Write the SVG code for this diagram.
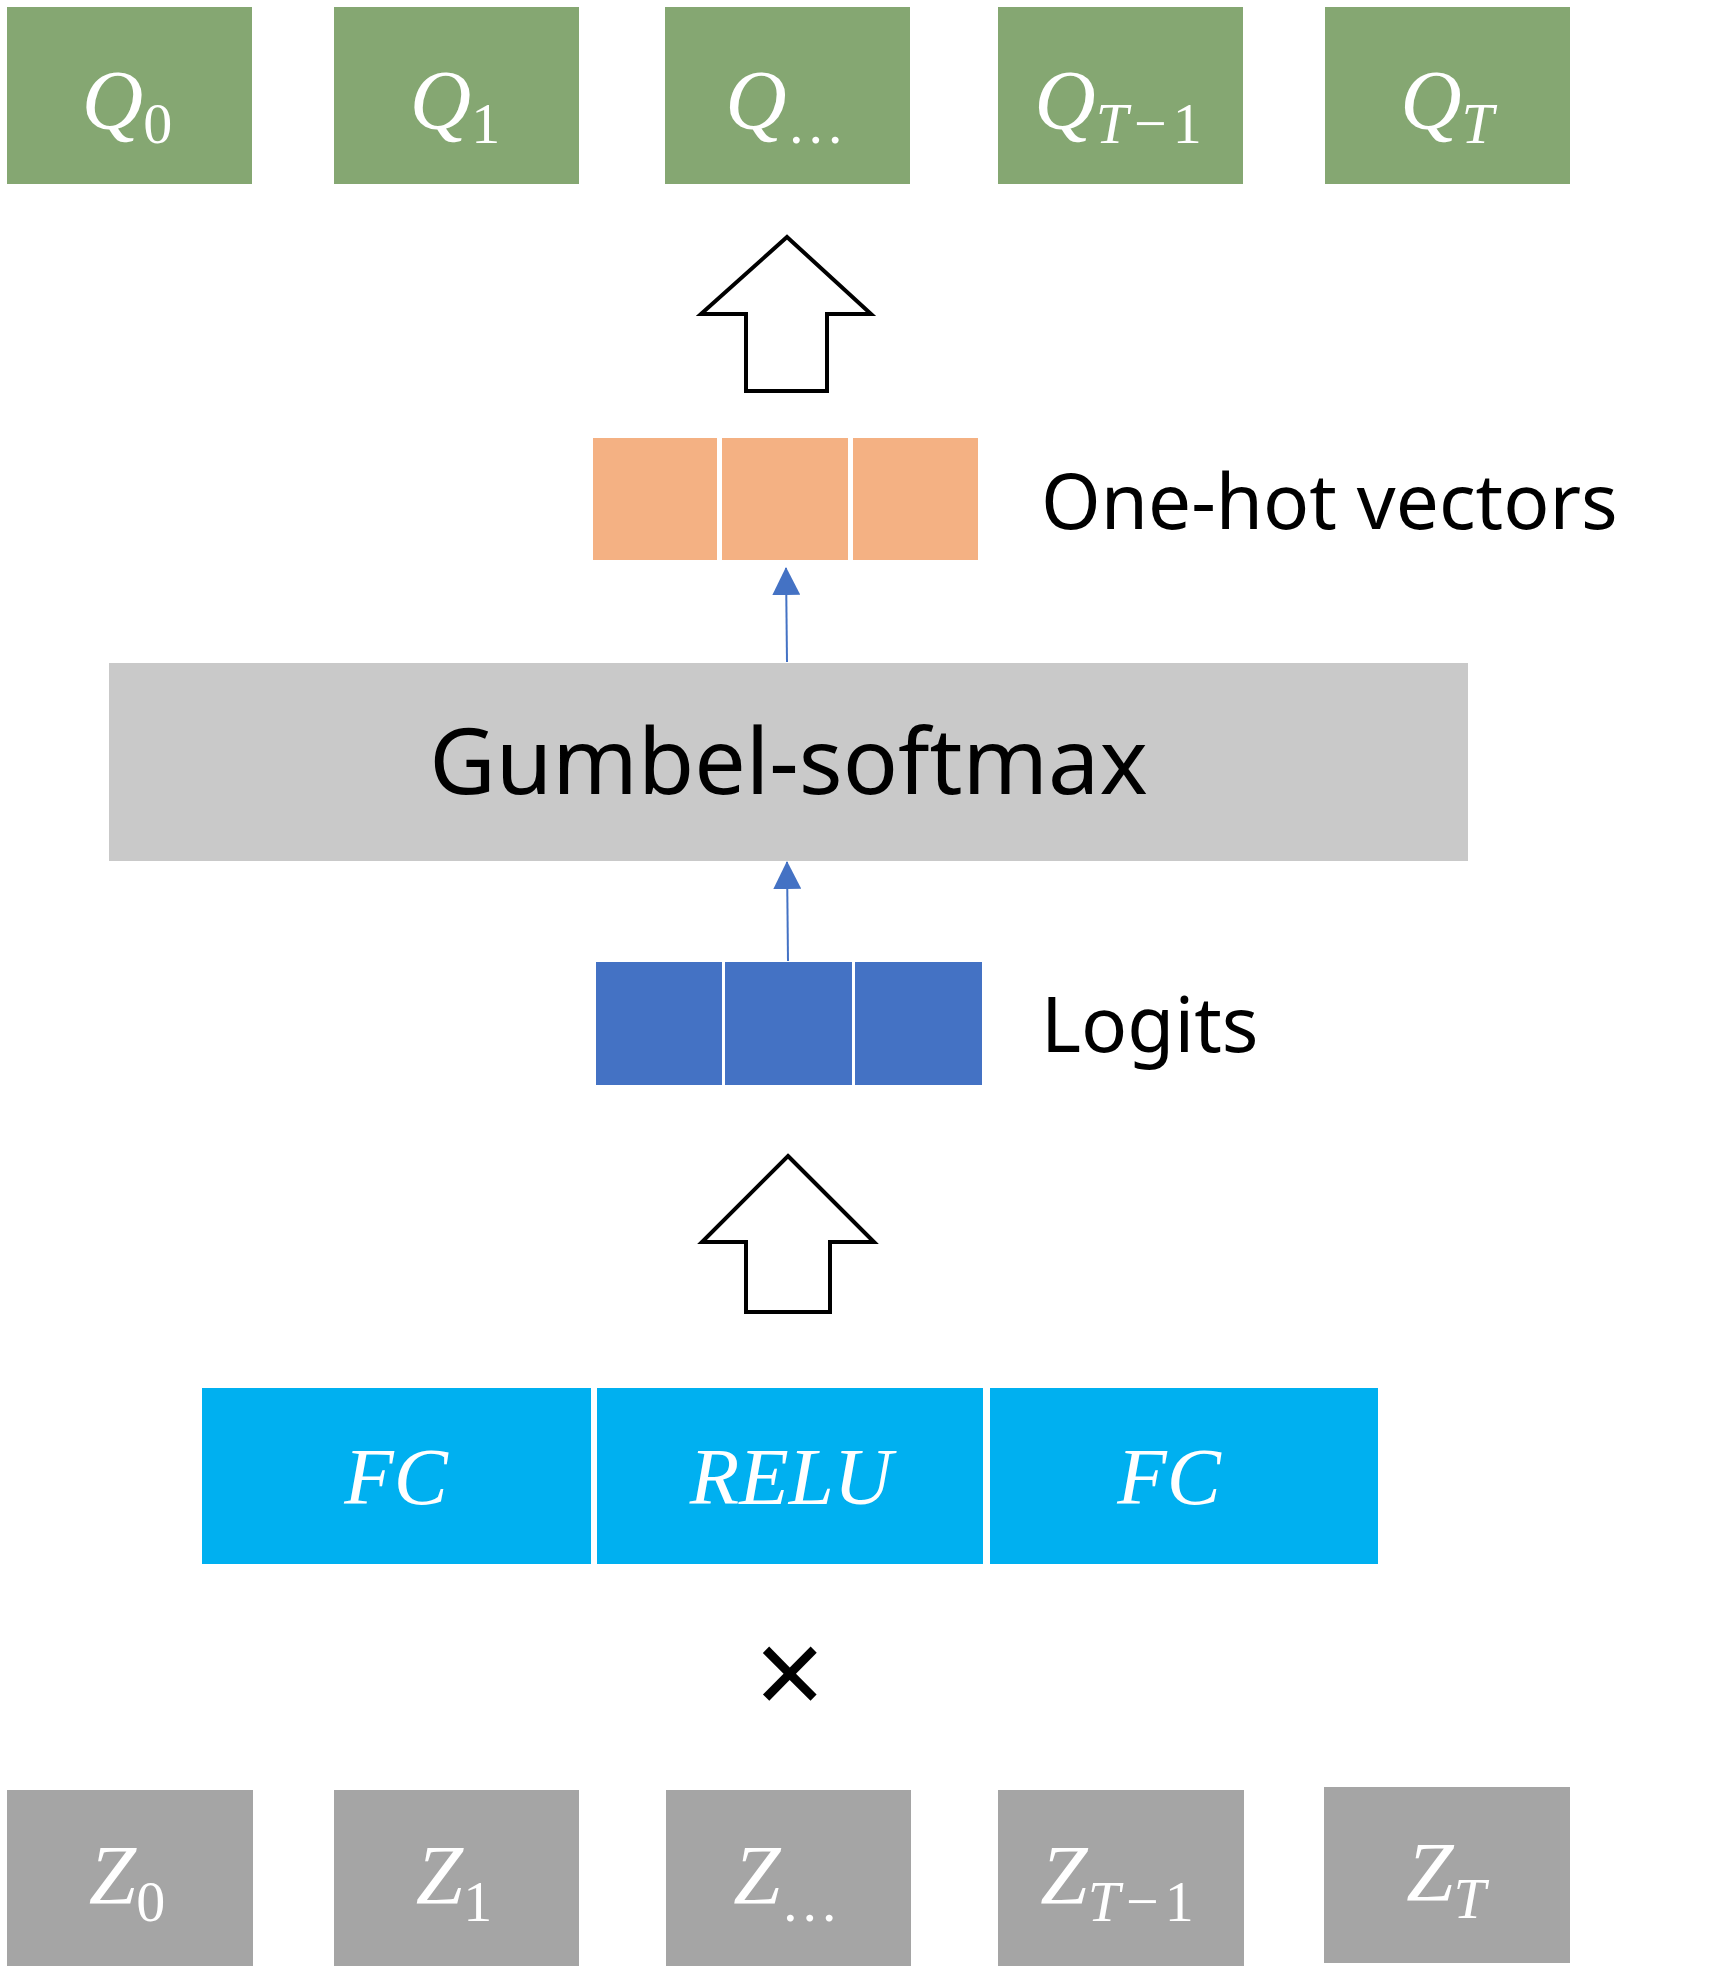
<svg xmlns="http://www.w3.org/2000/svg" width="1716" height="1972" viewBox="0 0 1716 1972">
<defs>
<style>
.q{fill:#85A772}
.z{fill:#A5A5A5}
.oh{fill:#F4B183}
.lg{fill:#4472C4}
.fc{fill:#00B0F0}
.gs{fill:#C9C9C9}
.math{font-family:"Liberation Serif","DejaVu Serif",serif;fill:#FFFFFF}
.it{font-style:italic}
.lbl{font-family:"Noto Sans","Open Sans","DejaVu Sans",sans-serif;fill:#000000}
.block{fill:#FFFFFF;stroke:#000000;stroke-width:4;stroke-linejoin:miter}
.thin{stroke:#4472C4;stroke-width:2;fill:none}
</style>
<marker id="ah" markerUnits="userSpaceOnUse" markerWidth="28" markerHeight="28" viewBox="0 0 28 28" refX="27" refY="14" orient="auto">
<path d="M0,0 L28,14 L0,28 Z" fill="#4472C4"/>
</marker>
</defs>
<rect width="1716" height="1972" fill="#FFFFFF"/>

<g id="Q0"><rect class="q" x="7" y="7" width="245" height="177"/><text class="math" x="127" y="129" text-anchor="middle" font-size="85"><tspan class="it">Q</tspan><tspan font-size="58" dy="14">0</tspan></text></g>
<g id="Q1"><rect class="q" x="334" y="7" width="245" height="177"/><text class="math" x="455" y="129" text-anchor="middle" font-size="85"><tspan class="it">Q</tspan><tspan font-size="58" dy="14">1</tspan></text></g>
<g id="Qdots"><rect class="q" x="665" y="7" width="245" height="177"/><text class="math" x="785" y="129" text-anchor="middle" font-size="85"><tspan class="it">Q</tspan><tspan font-size="58" dy="14">…</tspan></text></g>
<g id="QT1"><rect class="q" x="998" y="7" width="245" height="177"/><text class="math" x="1118" y="129" text-anchor="middle" font-size="85"><tspan class="it">Q</tspan><tspan font-size="58" dy="14"><tspan class="it">T</tspan><tspan dx="6">−</tspan><tspan dx="6">1</tspan></tspan></text></g>
<g id="QT"><rect class="q" x="1325" y="7" width="245" height="177"/><text class="math" x="1447" y="129" text-anchor="middle" font-size="85"><tspan class="it">Q</tspan><tspan class="it" font-size="58" dy="14">T</tspan></text></g>

<g id="onehot">
<rect class="oh" x="593" y="438" width="124" height="122"/>
<rect class="oh" x="722" y="438" width="126" height="122"/>
<rect class="oh" x="853" y="438" width="125" height="122"/>
<text class="lbl" x="1041" y="529" font-size="76.5">One-hot vectors</text>
</g>

<g id="gumbel"><rect class="gs" x="109" y="663" width="1359" height="198"/><text class="lbl" x="788.5" y="794" text-anchor="middle" font-size="91.5">Gumbel-softmax</text></g>

<g id="logits">
<rect class="lg" x="596" y="962" width="126" height="123"/>
<rect class="lg" x="725" y="962" width="127" height="123"/>
<rect class="lg" x="855" y="962" width="127" height="123"/>
<text class="lbl" x="1041" y="1052" font-size="76.5">Logits</text>
</g>

<g id="mlp">
<rect class="fc" x="202" y="1388" width="389" height="176"/>
<rect class="fc" x="597" y="1388" width="386" height="176"/>
<rect class="fc" x="990" y="1388" width="388" height="176"/>
<text class="math it" x="396" y="1504" text-anchor="middle" font-size="81">FC</text>
<text class="math it" x="791" y="1504" text-anchor="middle" font-size="81">RELU</text>
<text class="math it" x="1169" y="1504" text-anchor="middle" font-size="81">FC</text>
</g>

<g id="times"><text class="lbl" x="790" y="1717" text-anchor="middle" font-size="122">×</text></g>

<g id="Z0"><rect class="z" x="7" y="1790" width="246" height="176"/><text class="math" x="127" y="1904" text-anchor="middle" font-size="85"><tspan class="it">Z</tspan><tspan font-size="58" dy="17">0</tspan></text></g>
<g id="Z1"><rect class="z" x="334" y="1790" width="245" height="176"/><text class="math" x="454" y="1904" text-anchor="middle" font-size="85"><tspan class="it">Z</tspan><tspan font-size="58" dy="17">1</tspan></text></g>
<g id="Zdots"><rect class="z" x="666" y="1790" width="245" height="176"/><text class="math" x="786" y="1904" text-anchor="middle" font-size="85"><tspan class="it">Z</tspan><tspan font-size="58" dy="17">…</tspan></text></g>
<g id="ZT1"><rect class="z" x="998" y="1790" width="246" height="176"/><text class="math" x="1117" y="1904" text-anchor="middle" font-size="85"><tspan class="it">Z</tspan><tspan font-size="58" dy="17"><tspan class="it">T</tspan><tspan dx="6">−</tspan><tspan dx="6">1</tspan></tspan></text></g>
<g id="ZT"><rect class="z" x="1324" y="1787" width="246" height="176"/><text class="math" x="1446" y="1901" text-anchor="middle" font-size="85"><tspan class="it">Z</tspan><tspan class="it" font-size="58" dy="17">T</tspan></text></g>

<g id="connectors">
<polygon class="block" points="787,237 871,314 827,314 827,391 746,391 746,314 701,314"/>
<polygon class="block" points="788,1156 874,1242 830,1242 830,1312 746,1312 746,1242 702,1242"/>
<line class="thin" x1="787" y1="662" x2="786" y2="568" marker-end="url(#ah)"/>
<line class="thin" x1="788" y1="961" x2="787" y2="862" marker-end="url(#ah)"/>
</g>
</svg>
